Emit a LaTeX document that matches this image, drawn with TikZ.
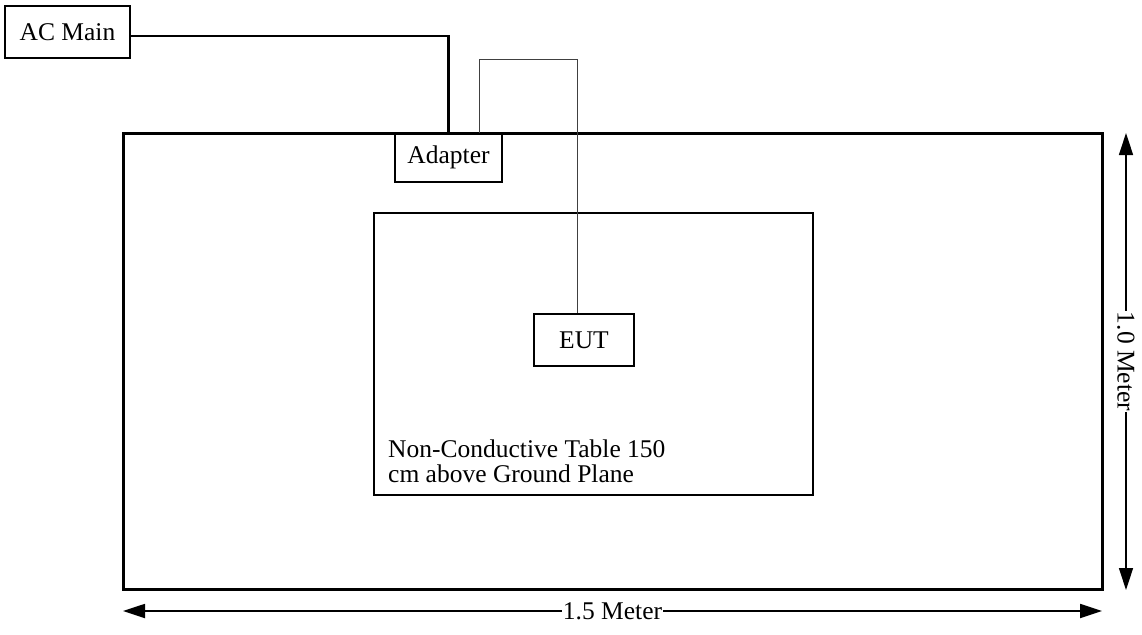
\documentclass[tikz,border=0pt]{standalone}
\usepackage{fontspec}
\setmainfont{Liberation Serif}
\usetikzlibrary{arrows.meta,positioning}

\begin{document}
\begin{tikzpicture}[x=1pt,y=-1pt,
    box/.style={draw,line width=1.5pt,inner sep=0pt,font=\fontsize{25.5}{25}\selectfont},
    dim/.style={{Triangle[length=22pt,width=14pt]}-{Triangle[length=22pt,width=14pt]},line width=1.8pt},
    dimlabel/.style={fill=white,inner sep=1pt,font=\fontsize{25.5}{25}\selectfont}]
\useasboundingbox (0,0) rectangle (1142,634);
\node[box,line width=3pt,minimum width=979,minimum height=456] (plane) at (612.5,361) {};
\node[box,minimum width=125,minimum height=52] (ac) at (67.5,32) {AC Main};
\node[box,minimum width=107,minimum height=49] (adapter) at (448.5,157.5) {Adapter};
\node[box,minimum width=439,minimum height=282] (table) at (593.5,354) {};
\node[box,minimum width=100,minimum height=52] (eut) at (584,340) {EUT};
\node[anchor=north west,inner sep=0pt,align=left,font=\fontsize{25.5}{25}\selectfont] (tabletext) at (388,440)
    {Non-Conductive Table 150\\cm above Ground Plane};
\coordinate (plug) at (479,133);
\coordinate (vtop) at (1126,133);
\coordinate (vbot) at (1126,590);
\coordinate (hleft) at (123,611);
\coordinate (hright) at (1102,611);
\draw[line width=2.7pt] ([yshift=-4pt]ac.east) -| (adapter.north);
\draw[line width=1pt,black!75] (plug) |- (577,60) -- ([xshift=-7pt]eut.north);
\draw[dim,line width=1.4pt] (vtop) -- node[dimlabel,rotate=-90] {1.0 Meter} (vbot);
\draw[dim] (hleft) -- node[dimlabel] {1.5 Meter} (hright);
\end{tikzpicture}
\end{document}
